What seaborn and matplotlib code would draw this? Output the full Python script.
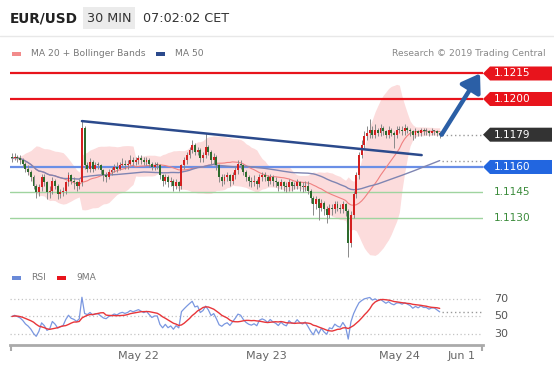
import numpy as np
import pandas as pd
import matplotlib
matplotlib.use("Agg")
import matplotlib.pyplot as plt
import matplotlib.transforms as mtransforms
from matplotlib.patches import Polygon, Rectangle, FancyArrowPatch
import seaborn as sns

# 30 min EUR/USD candles, open = previous close
first_open = 1.1166
close = [
    1.1165, 1.1166, 1.1165, 1.1164, 1.1162, 1.1159, 1.1157, 1.1154, 1.1149, 1.1145,
    1.1148, 1.1154, 1.1151, 1.1145, 1.1146, 1.1152, 1.1149, 1.1144, 1.1145, 1.1146,
    1.1151, 1.1155, 1.1152, 1.1151, 1.1149, 1.1151, 1.1183, 1.1161, 1.1159, 1.1163,
    1.1159, 1.1161, 1.1161, 1.1158, 1.1155, 1.1154, 1.1157, 1.1158, 1.1160, 1.1159,
    1.1161, 1.1162, 1.1161, 1.1162, 1.1164, 1.1163, 1.1164, 1.1165, 1.1164, 1.1163,
    1.1164, 1.1162, 1.1160, 1.1161, 1.1161, 1.1155, 1.1152, 1.1154, 1.1151, 1.1152,
    1.1149, 1.1151, 1.1149, 1.1161, 1.1164, 1.1167, 1.1170, 1.1173, 1.1169, 1.1170,
    1.1165, 1.1167, 1.1172, 1.1169, 1.1164, 1.1166, 1.1161, 1.1154, 1.1152, 1.1154,
    1.1155, 1.1152, 1.1155, 1.1158, 1.1162, 1.1161, 1.1157, 1.1154, 1.1152, 1.1151,
    1.1152, 1.1150, 1.1154, 1.1155, 1.1154, 1.1152, 1.1154, 1.1152, 1.1151, 1.1149,
    1.1151, 1.1149, 1.1148, 1.1151, 1.1149, 1.1149, 1.1151, 1.1149, 1.1148, 1.1149,
    1.1146, 1.1142, 1.1138, 1.1141, 1.1136, 1.1139, 1.1135, 1.1132, 1.1136, 1.1135,
    1.1138, 1.1136, 1.1135, 1.1138, 1.1134, 1.1115, 1.1132, 1.1144, 1.1155, 1.1167,
    1.1173, 1.1178, 1.1180, 1.1182, 1.1179, 1.1182, 1.1180, 1.1183, 1.1181, 1.1179,
    1.1182, 1.1180, 1.1179, 1.1182, 1.1182, 1.1181, 1.1183, 1.1182, 1.1181, 1.1179,
    1.1181, 1.1180, 1.1182, 1.1181, 1.1181, 1.1180, 1.1181, 1.1181, 1.1180, 1.1179,
]
high = [
    1.1168, 1.1168, 1.1167, 1.1167, 1.1165, 1.1163, 1.1161, 1.1158, 1.1155, 1.1150,
    1.1150, 1.1156, 1.1156, 1.1152, 1.1149, 1.1154, 1.1153, 1.1150, 1.1147, 1.1148,
    1.1152, 1.1157, 1.1156, 1.1154, 1.1152, 1.1153, 1.1187, 1.1184, 1.1163, 1.1165,
    1.1164, 1.1163, 1.1163, 1.1162, 1.1159, 1.1157, 1.1159, 1.1160, 1.1162, 1.1163,
    1.1163, 1.1165, 1.1164, 1.1164, 1.1167, 1.1166, 1.1166, 1.1167, 1.1167, 1.1166,
    1.1166, 1.1165, 1.1163, 1.1163, 1.1163, 1.1162, 1.1156, 1.1156, 1.1155, 1.1154,
    1.1153, 1.1153, 1.1152, 1.1162, 1.1166, 1.1169, 1.1172, 1.1176, 1.1174, 1.1172,
    1.1171, 1.1169, 1.1180, 1.1173, 1.1170, 1.1168, 1.1167, 1.1162, 1.1156, 1.1156,
    1.1157, 1.1156, 1.1157, 1.1160, 1.1164, 1.1164, 1.1162, 1.1158, 1.1155, 1.1154,
    1.1155, 1.1153, 1.1156, 1.1157, 1.1157, 1.1155, 1.1156, 1.1155, 1.1154, 1.1152,
    1.1153, 1.1152, 1.1151, 1.1153, 1.1152, 1.1151, 1.1153, 1.1152, 1.1151, 1.1152,
    1.1152, 1.1147, 1.1143, 1.1143, 1.1142, 1.1141, 1.1140, 1.1137, 1.1138, 1.1138,
    1.1140, 1.1140, 1.1138, 1.1140, 1.1139, 1.1135, 1.1134, 1.1146, 1.1157, 1.1169,
    1.1176, 1.1181, 1.1184, 1.1188, 1.1184, 1.1185, 1.1183, 1.1185, 1.1184, 1.1182,
    1.1184, 1.1183, 1.1181, 1.1184, 1.1184, 1.1184, 1.1185, 1.1184, 1.1183, 1.1182,
    1.1183, 1.1182, 1.1183, 1.1183, 1.1183, 1.1182, 1.1183, 1.1182, 1.1182, 1.1181,
]
low = [
    1.1163, 1.1164, 1.1163, 1.1162, 1.1160, 1.1157, 1.1155, 1.1152, 1.1147, 1.1142,
    1.1143, 1.1146, 1.1149, 1.1141, 1.1142, 1.1144, 1.1147, 1.1141, 1.1142, 1.1143,
    1.1144, 1.1149, 1.1150, 1.1147, 1.1146, 1.1147, 1.1149, 1.1159, 1.1157, 1.1157,
    1.1157, 1.1158, 1.1159, 1.1156, 1.1152, 1.1151, 1.1153, 1.1155, 1.1157, 1.1157,
    1.1158, 1.1160, 1.1159, 1.1159, 1.1161, 1.1161, 1.1161, 1.1162, 1.1162, 1.1161,
    1.1161, 1.1160, 1.1158, 1.1158, 1.1159, 1.1153, 1.1149, 1.1150, 1.1148, 1.1149,
    1.1146, 1.1147, 1.1146, 1.1147, 1.1159, 1.1162, 1.1165, 1.1168, 1.1167, 1.1167,
    1.1163, 1.1163, 1.1165, 1.1167, 1.1162, 1.1162, 1.1158, 1.1151, 1.1149, 1.1150,
    1.1152, 1.1149, 1.1150, 1.1153, 1.1156, 1.1159, 1.1155, 1.1152, 1.1149, 1.1148,
    1.1149, 1.1147, 1.1148, 1.1152, 1.1152, 1.1149, 1.1150, 1.1149, 1.1148, 1.1146,
    1.1147, 1.1146, 1.1145, 1.1146, 1.1146, 1.1147, 1.1147, 1.1146, 1.1145, 1.1146,
    1.1144, 1.1139, 1.1132, 1.1135, 1.1129, 1.1134, 1.1132, 1.1127, 1.1130, 1.1132,
    1.1133, 1.1134, 1.1133, 1.1133, 1.1131, 1.1107, 1.1113, 1.1130, 1.1142, 1.1153,
    1.1165, 1.1171, 1.1176, 1.1177, 1.1177, 1.1177, 1.1178, 1.1178, 1.1179, 1.1177,
    1.1177, 1.1178, 1.1171, 1.1177, 1.1180, 1.1179, 1.1179, 1.1180, 1.1178, 1.1176,
    1.1177, 1.1178, 1.1178, 1.1179, 1.1179, 1.1178, 1.1179, 1.1179, 1.1178, 1.1177,
]

# key levels and annotations
resistance_levels = [1.1215, 1.1200]
pivot_level = 1.1160
support_levels = [1.1145, 1.1130]
trend_x = [26, 152.3]
trend_y = [1.1187, 1.1167]
target_x = 174
day_ticks = [47, 94.5, 144, 167]
day_labels = ["May 22", "May 23", "May 24", "Jun 1"]
rsi_levels = [70, 50, 30]

W, H = 554, 376


def fx(px):
    return px / W


def fy(py):
    return 1 - py / H


# indicators
df = pd.DataFrame({"close": close, "high": high, "low": low})
df["open"] = df["close"].shift(1).fillna(first_open)
df["i"] = np.arange(len(df))
df["ma20"] = df["close"].rolling(20, min_periods=1).mean()
sd = df["close"].rolling(20, min_periods=2).std(ddof=0).fillna(0)
df["bb_up"] = df["ma20"] + 2 * sd
df["bb_dn"] = df["ma20"] - 2 * sd
df["ma50"] = df["close"].rolling(50, min_periods=1).mean()

# Wilder RSI(14), seeded with the average half move
d = df["close"].diff().fillna(0).values
seed = np.abs(d).mean() / 2
ag, al = seed, seed
rsi = []
for g in d:
    ag = (ag * 13 + max(g, 0)) / 14
    al = (al * 13 + max(-g, 0)) / 14
    rsi.append(100 - 100 / (1 + ag / al))
df["rsi"] = rsi
df["rsi9"] = df["rsi"].rolling(9, min_periods=1).mean()

sns.set_theme(style="white")
plt.rcParams["font.family"] = ["DejaVu Sans"]

fig = plt.figure(figsize=(W / 100, H / 100), dpi=100)
fig.patch.set_facecolor("white")

xmin, xmax = -0.74, 175.1
ax = fig.add_axes([fx(10), fy(265), fx(473), 220 / H])
ax.set_xlim(xmin, xmax)
ax.set_ylim(1.110235, 1.123176)
ax.axis("off")

# Bollinger band + moving averages
ax.fill_between(df["i"], df["bb_dn"], df["bb_up"], color="#fcdcdc", lw=0, zorder=0)
sns.lineplot(data=df, x="i", y="ma20", ax=ax, color="#f08080", lw=0.8, zorder=2)
sns.lineplot(data=df, x="i", y="ma50", ax=ax, color="#7f85b2", lw=1.0, zorder=2)

# levels
for lv in resistance_levels:
    ax.axhline(lv, color="#e8141c", lw=1.6, zorder=1)
ax.axhline(pivot_level, color="#6a8fe6", lw=1.6, zorder=1)
for lv in support_levels:
    ax.axhline(lv, color="#9fd49f", lw=1.0, zorder=1)

# candles
up = df["close"] > df["open"]
dn = df["close"] < df["open"]
colors = np.where(up, "#d42020", np.where(dn, "#2d6b2d", "#666666"))
ax.vlines(df["i"], df["low"], df["high"], color="#8a8a8a", lw=0.7, zorder=3)
body_lo = np.minimum(df["open"], df["close"])
body_h = np.maximum(np.abs(df["close"] - df["open"]), 0.00005)
ax.bar(df["i"], body_h, bottom=body_lo, width=0.72, color=colors, lw=0, zorder=4)

# trend line and target arrow
ax.plot(trend_x, trend_y, color="#2b4a8c", lw=1.8, zorder=5, solid_capstyle="round")
last = df["close"].iloc[-1]
arr = FancyArrowPatch((df["i"].iloc[-1] + 0.7, last), (target_x, resistance_levels[0]),
                      arrowstyle="-|>,head_width=0.5,head_length=0.75", mutation_scale=14,
                      color="#2b5fa6", lw=3.2, zorder=6, shrinkA=0, shrinkB=0)
ax.add_patch(arr)
ax.hlines(last, df["i"].iloc[-1] + 1, xmax, colors="#999999", linestyles=(0, (1, 2)), lw=1)
ax.hlines(df["ma50"].iloc[-1], df["i"].iloc[-1] + 1, xmax, colors="#999999",
          linestyles=(0, (1, 2)), lw=1)

# price tags on the right
tr = mtransforms.blended_transform_factory(fig.transFigure, ax.transData)
hh = 7 / 1.7 / 10000


def tag(y, color):
    pts = [(fx(483), y), (fx(490), y + hh), (fx(552), y + hh), (fx(552), y - hh), (fx(490), y - hh)]
    fig.patches.append(Polygon(pts, closed=True, transform=tr, color=color, lw=0))
    fig.text(fx(494), y, f"{y:.4f}", transform=tr, color="white", fontsize=7.6, va="center")


for lv in resistance_levels:
    tag(lv, "#e8141c")
tag(round(last, 4), "#333333")
tag(pivot_level, "#2266e0")
for lv in support_levels:
    fig.text(fx(494), lv, f"{lv:.4f}", transform=tr, color="#3c8c3c", fontsize=7.6, va="center")

# RSI panel
ax2 = fig.add_axes([fx(10), fy(345), fx(473), 75 / H])
ax2.set_xlim(xmin, xmax)
ax2.set_ylim(18.3, 101.7)
for lv in rsi_levels:
    ax2.axhline(lv, color="#c4c4c4", lw=0.9, ls=(0, (1, 2)), zorder=0)
sns.lineplot(data=df, x="i", y="rsi", ax=ax2, color="#7a97e0", lw=0.9)
sns.lineplot(data=df, x="i", y="rsi9", ax=ax2, color="#e8363a", lw=1.0)
ax2.hlines(df["rsi"].iloc[-1], df["i"].iloc[-1] + 1, xmax, colors="#999999",
           linestyles=(0, (1, 2)), lw=1)
for s in ["top", "left", "right"]:
    ax2.spines[s].set_visible(False)
ax2.spines["bottom"].set_color("#aaaaaa")
ax2.spines["bottom"].set_linewidth(2)
ax2.set_xticks(day_ticks)
ax2.set_xticklabels(day_labels, color="#666666", fontsize=8)
ax2.set_xticks([xmin + 0.3, xmax - 0.3], minor=True)
ax2.tick_params(axis="x", which="major", length=0, pad=4)
ax2.tick_params(axis="x", which="minor", length=4, width=1.5, color="#aaaaaa", bottom=True)
ax2.set_yticks([])
ax2.set_xlabel("")
ax2.set_ylabel("")
tr2 = mtransforms.blended_transform_factory(fig.transFigure, ax2.transData)
for lv in rsi_levels:
    fig.text(fx(494), lv, str(lv), transform=tr2, color="#555555", fontsize=8, va="center")

# header
fig.text(fx(10), fy(18), "EUR/USD", fontsize=9.8, fontweight="bold", color="#222222", va="center")
fig.patches.append(Rectangle((fx(83), fy(29)), fx(52), 22 / H, transform=fig.transFigure,
                             color="#ebebeb", lw=0))
fig.text(fx(109), fy(18), "30 MIN", fontsize=9.2, color="#333333", va="center", ha="center")
fig.text(fx(143), fy(18), "07:02:02 CET", fontsize=9.2, color="#333333", va="center")
fig.lines.append(plt.Line2D([0, 1], [fy(36), fy(36)], transform=fig.transFigure,
                            color="#e8e8e8", lw=1))

# legends
def legend_item(px, py, color, label):
    fig.patches.append(Rectangle((fx(px), fy(py + 2)), fx(9), 4 / H,
                                 transform=fig.transFigure, color=color, lw=0))
    fig.text(fx(px + 19), fy(py), label, fontsize=6.6, color="#777777", va="center")


legend_item(12, 54, "#f28b8b", "MA 20 + Bollinger Bands")
legend_item(156, 54, "#2b4a8c", "MA 50")
legend_item(12, 278, "#6a8ad8", "RSI")
legend_item(57, 278, "#e8141c", "9MA")
fig.text(fx(546), fy(54), "Research \u00a9 2019 Trading Central", fontsize=6.6,
         color="#888888", va="center", ha="right")

fig.savefig("out.png", dpi=100)
plt.close(fig)
